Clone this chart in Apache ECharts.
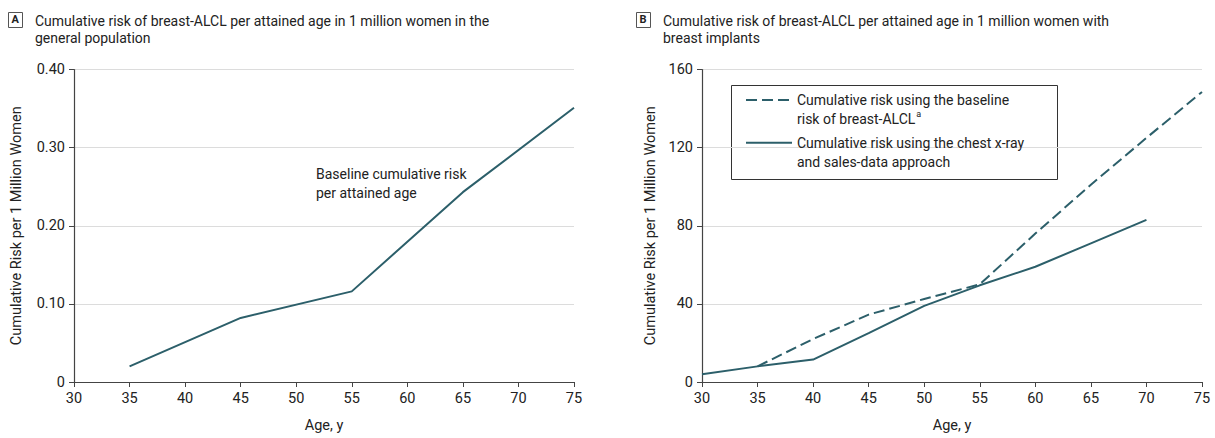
<!DOCTYPE html>
<html>
<head>
<meta charset="utf-8">
<title>breast-ALCL cumulative risk</title>
<script src="https://cdn.jsdelivr.net/npm/echarts@6/dist/echarts.min.js"></script>
<style>
  html, body {
    margin: 0;
    padding: 0;
    background: #fff;
  }
  #chart {
    width: 1215px;
    height: 438px;
  }
</style>
</head>
<body>
<div id="chart"></div>
<script>
  // panel A: general population
  var agesA = [35, 45, 55, 65, 75]
  var riskA = [0.02, 0.082, 0.116, 0.243, 0.351]

  // panel B: women with breast implants
  var agesB = [30, 35, 40, 45, 50, 55, 60, 65, 70, 75]
  var baselineB = [null, 8, 22, 34.5, 42.5, 50, 76, 101, 125, 148.5]
  var chestB = [4, 8, 11.5, 25, 39, 49.5, 59, 71, 83, null]

  var xTicks = [30, 35, 40, 45, 50, 55, 60, 65, 70, 75]
  var yTicksA = [0, 0.1, 0.2, 0.3, 0.4]
  var yTicksB = [0, 40, 80, 120, 160]

  var nameBaseline = 'Cumulative risk using the baseline risk of breast-ALCL'
  var nameChest = 'Cumulative risk using the chest x-ray and sales-data approach'

  var FONT = 'Roboto, "Noto Sans", sans-serif'
  var LINE = '#2c5f6a'

  function pairs (xs, ys) {
    var out = []
    for (var i = 0; i < xs.length; i++) {
      if (ys[i] !== null) out.push([xs[i], ys[i]])
    }
    return out
  }

  function xAxisFor (gridIndex) {
    return {
      type: 'value',
      gridIndex: gridIndex,
      min: xTicks[0],
      max: xTicks[xTicks.length - 1],
      interval: 5,
      name: 'Age, y',
      nameLocation: 'middle',
      nameGap: 36,
      nameTextStyle: { fontFamily: FONT, fontSize: 14.5, color: '#222' },
      axisLine: { onZero: false, lineStyle: { color: '#444', width: 1.2 } },
      axisTick: { show: true, length: 5, lineStyle: { color: '#444' } },
      axisLabel: { margin: 9, fontFamily: FONT, fontSize: 14.5, color: '#222' },
      splitLine: { show: false }
    }
  }

  function yAxisFor (gridIndex, ticks, gap, fmt) {
    return {
      type: 'value',
      gridIndex: gridIndex,
      min: ticks[0],
      max: ticks[ticks.length - 1],
      interval: ticks[1] - ticks[0],
      name: 'Cumulative Risk per 1 Million Women',
      nameLocation: 'middle',
      nameGap: gap,
      nameTextStyle: { fontFamily: FONT, fontSize: 14.5, color: '#222' },
      axisLine: { show: true, lineStyle: { color: '#444', width: 1.2 } },
      axisTick: { show: true, length: 5, lineStyle: { color: '#444' } },
      axisLabel: { margin: 9, fontFamily: FONT, fontSize: 14.5, color: '#222', formatter: fmt },
      splitLine: { show: true, lineStyle: { color: '#dcdcdc', width: 1 } }
    }
  }

  // the lettered box + title of each panel
  function panelTitle (letter, x, line1, line2) {
    return [
      {
        type: 'rect',
        left: x,
        top: 12,
        shape: { width: 14, height: 15 },
        style: { fill: '#fff', stroke: '#555', lineWidth: 1 }
      },
      {
        type: 'text',
        left: x + 3.5,
        top: 13.5,
        style: { text: letter, fontFamily: FONT, fontSize: 11, fontWeight: 'bold', fill: '#222' }
      },
      {
        type: 'text',
        left: x + 27,
        top: 12,
        style: {
          text: line1 + '\n' + line2,
          fontFamily: FONT,
          fontSize: 14,
          lineHeight: 17,
          fill: '#222'
        }
      }
    ]
  }

  var myChart = echarts.init(document.getElementById('chart'), null, { renderer: 'svg' })

  var option = {
    animation: false,
    backgroundColor: '#fff',
    grid: [
      { left: 74, right: 641, top: 69.5, bottom: 54.5 },
      { left: 702, right: 13, top: 69.5, bottom: 54.5 }
    ],
    xAxis: [xAxisFor(0), xAxisFor(1)],
    yAxis: [
      yAxisFor(0, yTicksA, 50, function (v) { return v === 0 ? '0' : v.toFixed(2) }),
      yAxisFor(1, yTicksB, 44, function (v) { return String(v) })
    ],
    legend: {
      orient: 'vertical',
      left: 745,
      top: 71.5,
      padding: 0,
      itemWidth: 46,
      itemHeight: 14,
      itemGap: -14.3,
      // only the line sample, no marker dot
      itemStyle: { color: 'rgba(0,0,0,0)', borderWidth: 0, opacity: 0 },
      data: [nameBaseline, nameChest],
      formatter: function (name) {
        if (name === nameBaseline) {
          return '{t|Cumulative risk using the baseline}\n{t|risk of breast-ALCL}{sup|a}'
        }
        return '{t|Cumulative risk using the chest x-ray}\n{t|and sales-data approach}'
      },
      textStyle: {
        padding: [19, 0, 0, 0],
        lineHeight: 19,
        rich: {
          t: { fontFamily: FONT, fontSize: 14, lineHeight: 19, color: '#222' },
          sup: { fontFamily: FONT, fontSize: 9, lineHeight: 19, color: '#222', verticalAlign: 'top', padding: [0, 0, 6, 1] }
        }
      }
    },
    graphic: [].concat(
      panelTitle('A', 8, 'Cumulative risk of breast-ALCL per attained age in 1 million women in the', 'general population'),
      panelTitle('B', 636, 'Cumulative risk of breast-ALCL per attained age in 1 million women with', 'breast implants'),
      [
        {
          type: 'text',
          left: 316,
          top: 164,
          style: {
            text: 'Baseline cumulative risk\nper attained age',
            fontFamily: FONT,
            fontSize: 14,
            lineHeight: 19,
            fill: '#222'
          }
        },
        {
          // legend frame
          type: 'rect',
          left: 729,
          top: 83,
          shape: { width: 326, height: 94 },
          style: { fill: 'none', stroke: '#333', lineWidth: 1 }
        }
      ]
    ),
    series: [
      {
        name: 'Baseline cumulative risk per attained age',
        type: 'line',
        xAxisIndex: 0,
        yAxisIndex: 0,
        symbol: 'none',
        data: pairs(agesA, riskA),
        lineStyle: { color: LINE, width: 2 },
        itemStyle: { color: LINE }
      },
      {
        name: nameBaseline,
        type: 'line',
        xAxisIndex: 1,
        yAxisIndex: 1,
        symbol: 'none',
        data: pairs(agesB, baselineB),
        lineStyle: { color: LINE, width: 2, type: [11, 5] },
        itemStyle: { color: LINE }
      },
      {
        name: nameChest,
        type: 'line',
        xAxisIndex: 1,
        yAxisIndex: 1,
        symbol: 'none',
        data: pairs(agesB, chestB),
        lineStyle: { color: LINE, width: 2 },
        itemStyle: { color: LINE }
      }
    ]
  }

  // 使用刚指定的配置项和数据显示图表
  myChart.setOption(option)
</script>
</body>
</html>
